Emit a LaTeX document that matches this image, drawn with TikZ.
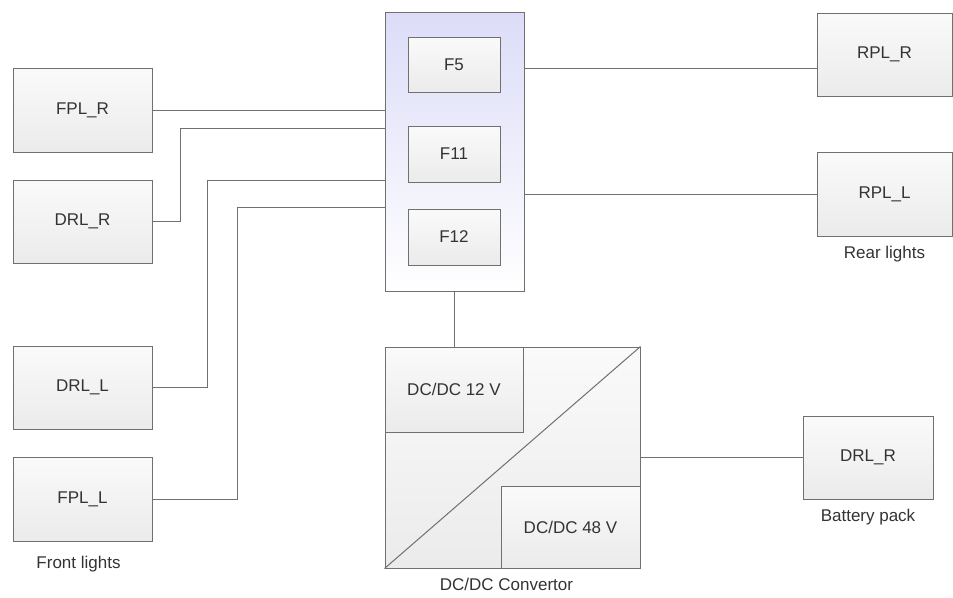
\documentclass[tikz,border=0pt]{standalone}
\usepackage{fontspec}
\setmainfont{Liberation Sans}
\usetikzlibrary{positioning}
\definecolor{edge}{HTML}{707070}
\definecolor{txt}{HTML}{333333}
\definecolor{boxtop}{HTML}{FAFAFA}
\definecolor{boxbot}{HTML}{EBEBEB}
\definecolor{fusetop}{HTML}{DCDCF8}
\tikzset{
  unit/.style={draw=edge, line width=1pt, top color=boxtop, bottom color=boxbot, text=txt, inner sep=2pt, align=center},
  fusebox/.style={draw=edge, line width=1pt, top color=fusetop, bottom color=white},
  wire/.style={draw=edge, line width=1pt},
  caption/.style={text=txt, inner sep=1pt}}
\begin{document}
\begin{tikzpicture}[x=1pt, y=-1pt, font=\fontsize{17}{20}\selectfont, node distance=8pt]
\useasboundingbox (0,0) rectangle (953,597);
\node[unit, minimum width=139pt, minimum height=84pt] (fplr) at (82.5,110) {FPL\_R};
\node[unit, minimum width=139pt, minimum height=83pt] (drlr) at (82.5,221.5) {DRL\_R};
\node[unit, minimum width=139pt, minimum height=83pt] (drll) at (82.5,387.5) {DRL\_L};
\node[unit, minimum width=139pt, minimum height=84pt] (fpll) at (82.5,499) {FPL\_L};
\node[caption, below=13pt of fpll, xshift=-4pt] (front) {Front lights};
\node[fusebox, minimum width=139pt, minimum height=279pt] (fuse) at (454.5,151.5) {};
\node[unit, minimum width=92pt, minimum height=55pt] (ffive) at (454,64.5) {F5};
\node[unit, minimum width=92pt, minimum height=56pt] (feleven) at (454,154) {F11};
\node[unit, minimum width=92pt, minimum height=56pt] (ftwelve) at (454,237) {F12};
\node[unit, minimum width=135pt, minimum height=83pt] (rplr) at (884.5,54.5) {RPL\_R};
\node[unit, minimum width=135pt, minimum height=84pt] (rpll) at (884.5,194) {RPL\_L};
\node[caption, below=of rpll] (rear) {Rear lights};
\node[unit, minimum width=255pt, minimum height=221pt] (dcdc) at (512.5,457.5) {};
\node[caption, below=of dcdc, xshift=-6pt] (conv) {DC/DC Convertor};
\node[unit, minimum width=138pt, minimum height=85pt, anchor=north west] (dctwelve) at (dcdc.north west) {DC/DC 12 V};
\node[unit, minimum width=139pt, minimum height=82pt, anchor=south east] (dcfortyeight) at (dcdc.south east) {DC/DC 48 V};
\draw[wire] (dcdc.south west) -- (dcdc.north east);
\node[unit, minimum width=130pt, minimum height=83pt] (batt) at (868,457.5) {DRL\_R};
\node[caption, below=of batt] (pack) {Battery pack};
\draw[wire] (fplr.east) -- (fplr.east -| fuse.west);
\draw[wire] (drlr.east) -- ++(28,0) |- (fuse.west |- 0,128);
\draw[wire] (drll.east) -- ++(55,0) |- (fuse.west |- 0,180);
\draw[wire] (fpll.east) -- ++(85,0) |- (fuse.west |- 0,207);
\draw[wire] (fuse.east |- 0,68) -- (rplr.west |- 0,68);
\draw[wire] (fuse.east |- rpll.west) -- (rpll.west);
\draw[wire] (fuse.south) -- (fuse.south |- dcdc.north);
\draw[wire] (dcdc.east) -- (batt.west);
\end{tikzpicture}
\end{document}
